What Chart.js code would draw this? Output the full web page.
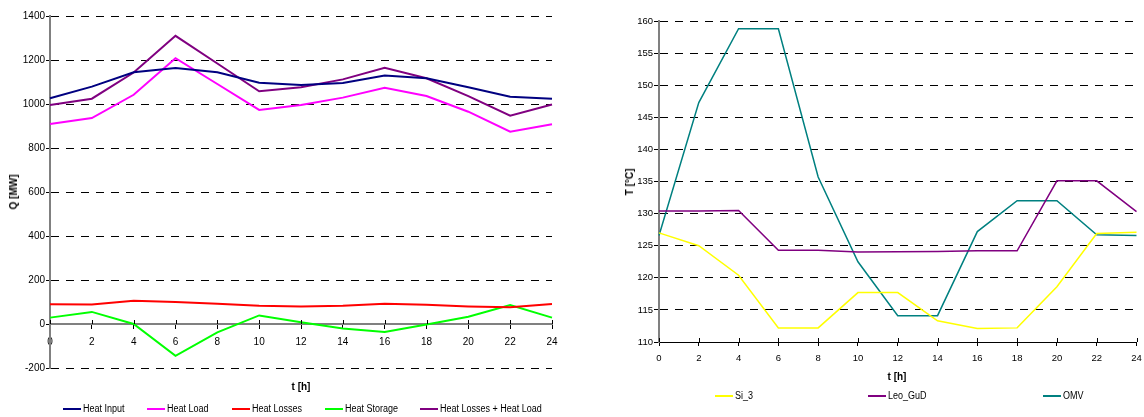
<!DOCTYPE html>
<html>
<head>
<meta charset="utf-8">
<script src="https://cdn.jsdelivr.net/npm/chart.js@4/dist/chart.umd.min.js"></script>
<style>
  html, body { margin: 0; padding: 0; background: #fff; }
  body { width: 1144px; height: 417px; position: relative; overflow: hidden; font-family: "Liberation Sans", Arial, sans-serif; color: #000; }
  canvas { position: absolute; top: 0; }
  .t { position: absolute; white-space: nowrap; font-size: 10px; line-height: 12px; }
  .b { font-weight: bold; }
  .leg { position: absolute; height: 12px; white-space: nowrap; }
  .leg .ln { position: absolute; left: 0; top: 5px; width: 18px; height: 2px; }
  .leg .tx { position: absolute; left: 20px; top: 0; font-size: 10px; line-height: 12px; transform: scaleX(0.9); transform-origin: left center; }
</style>
</head>
<body>
<canvas id="c1" width="580" height="417" style="left:0px"></canvas>
<canvas id="c2" width="564" height="417" style="left:580px"></canvas>
<div id="overlay"></div>
<script>
// ---------- data ----------
const hours = [0, 2, 4, 6, 8, 10, 12, 14, 16, 18, 20, 22, 24];

const heatInput      = [1026, 1079, 1144, 1164, 1144, 1097, 1086, 1095, 1129, 1117, 1076, 1033, 1024];
const heatLoad       = [909, 936, 1042, 1208, 1091, 973, 995, 1029, 1074, 1036, 965, 874, 908];
const heatLosses     = [90, 89, 106, 100, 92, 83, 80, 83, 92, 87, 80, 76, 91];
const heatStorage    = [29, 55, 0, -145, -38, 39, 8, -20, -36, -2, 33, 86, 29];
const lossesPlusLoad = [995, 1024, 1143, 1310, 1184, 1058, 1076, 1112, 1165, 1117, 1036, 947, 998];

const si3    = [127.0, 125.0, 120.4, 112.2, 112.2, 117.7, 117.7, 113.3, 112.1, 112.2, 118.6, 126.9, 127.1];
const leoGuD = [130.4, 130.4, 130.5, 124.3, 124.3, 124.0, 124.05, 124.1, 124.2, 124.2, 135.1, 135.1, 130.3];
const omv    = [126.6, 147.3, 158.8, 158.8, 135.7, 122.5, 114.1, 114.1, 127.2, 132.0, 132.0, 126.7, 126.6];

const leftYTicks  = [-200, 0, 200, 400, 600, 800, 1000, 1200, 1400];
const rightYTicks = [110, 115, 120, 125, 130, 135, 140, 145, 150, 155, 160];

const leftNames  = ['Heat Input', 'Heat Load', 'Heat Losses', 'Heat Storage', 'Heat Losses + Heat Load'];
const leftColors = ['#000080', '#FF00FF', '#FF0000', '#00FF00', '#800080'];
const leftSeries = [heatInput, heatLoad, heatLosses, heatStorage, lossesPlusLoad];

const rightNames  = ['Si_3', 'Leo_GuD', 'OMV'];
const rightColors = ['#FFFF00', '#800080', '#008080'];
const rightSeries = [si3, leoGuD, omv];

// ---------- helpers ----------
const FONT = '"Liberation Sans", Arial, sans-serif';

const crossTicks = {
  id: 'crossTicks',
  afterDraw(chart, args, opts) {
    const xs = chart.scales.x, ys = chart.scales.y;
    const y0 = opts.atZero ? ys.getPixelForValue(0) : chart.chartArea.bottom;
    const ctx = chart.ctx;
    ctx.save();
    ctx.strokeStyle = '#000';
    ctx.lineWidth = 1;
    ctx.beginPath();
    for (let i = 0; i < xs.ticks.length; i++) {
      const x = Math.round(xs.getPixelForTick(i)) + 0.5;
      ctx.moveTo(x, y0 - 4);
      ctx.lineTo(x, y0);
    }
    ctx.stroke();
    ctx.restore();
  }
};

function makeDatasets(names, colors, series, width) {
  return names.map((n, i) => ({
    label: n,
    data: series[i],
    borderColor: colors[i],
    backgroundColor: colors[i],
    borderWidth: width,
    pointRadius: 0,
    pointHoverRadius: 0,
    tension: 0,
    fill: false
  }));
}

// ---------- left chart ----------
new Chart(document.getElementById('c1'), {
  type: 'line',
  data: { labels: hours.map(String), datasets: makeDatasets(leftNames, leftColors, leftSeries, 2) },
  plugins: [crossTicks],
  options: {
    responsive: false,
    animation: false,
    devicePixelRatio: 1,
    layout: { padding: { left: 0, top: 16, right: 28, bottom: 49 } },
    plugins: { legend: { display: false }, tooltip: { enabled: false }, crossTicks: { atZero: true } },
    scales: {
      x: {
        type: 'category',
        position: { y: 0 },
        offset: false,
        grid: { display: true, drawOnChartArea: false, drawTicks: true, tickLength: 4, tickColor: '#000', tickWidth: 1, tickBorderDash: [] },
        border: { display: true, color: '#808080', width: 2 },
        ticks: { color: '#000', font: { family: FONT, size: 10 }, padding: 8, maxRotation: 0, autoSkip: false }
      },
      y: {
        min: -200, max: 1400,
        afterBuildTicks: s => { s.ticks = leftYTicks.map(v => ({ value: v })); },
        afterFit: s => { s.width = 50; },
        grid: { color: '#000', lineWidth: 1, tickLength: 4, tickColor: '#000', tickWidth: 1, tickBorderDash: [] },
        border: { display: true, color: '#808080', width: 2, dash: [8, 7] },
        ticks: { color: '#000', font: { family: FONT, size: 10 }, padding: 1, callback: v => String(v) }
      }
    }
  }
});

// ---------- right chart ----------
new Chart(document.getElementById('c2'), {
  type: 'line',
  data: { labels: hours.map(String), datasets: makeDatasets(rightNames, rightColors, rightSeries, 1.5) },
  plugins: [crossTicks],
  options: {
    responsive: false,
    animation: false,
    devicePixelRatio: 1,
    layout: { padding: { left: 0, top: 21, right: 7.5, bottom: 45 } },
    plugins: { legend: { display: false }, tooltip: { enabled: false }, crossTicks: { atZero: false } },
    scales: {
      x: {
        type: 'category',
        offset: false,
        afterFit: s => { s.height = 30; s.paddingLeft = 0; s.paddingRight = 0; },
        grid: { display: true, drawOnChartArea: false, drawTicks: true, tickLength: 4, tickColor: '#000', tickWidth: 1, tickBorderDash: [] },
        border: { display: true, color: '#000', width: 1 },
        ticks: { color: '#000', font: { family: FONT, size: 9.5 }, padding: 7, maxRotation: 0, autoSkip: false }
      },
      y: {
        min: 110, max: 160,
        afterBuildTicks: s => { s.ticks = rightYTicks.map(v => ({ value: v })); },
        afterFit: s => { s.width = 79; },
        grid: { color: '#000', lineWidth: 1, tickLength: 5, tickColor: '#000', tickWidth: 1, tickBorderDash: [] },
        border: { display: true, color: '#808080', width: 2, dash: [8, 7] },
        ticks: { color: '#000', font: { family: FONT, size: 9.5 }, padding: 1, callback: v => String(v) }
      }
    }
  }
});

// ---------- titles & legends (HTML text) ----------
const ov = document.getElementById('overlay');
function addText(txt, cx, cy, bold, rot) {
  const d = document.createElement('div');
  d.className = 't' + (bold ? ' b' : '');
  d.textContent = txt;
  d.style.left = cx + 'px';
  d.style.top = cy + 'px';
  d.style.transform = 'translate(-50%,-50%)' + (rot ? ' rotate(-90deg)' : '');
  ov.appendChild(d);
}
addText('Q [MW]', 14, 192, true, true);
addText('T [°C]', 630, 182, true, true);
addText('t [h]', 301, 387, true, false);
addText('t [h]', 897, 377, true, false);

function addLegend(names, colors, xs, cy, lw) {
  names.forEach((n, i) => {
    const d = document.createElement('div');
    d.className = 'leg';
    d.style.left = xs[i] + 'px';
    d.style.top = (cy - 6) + 'px';
    const l = document.createElement('div');
    l.className = 'ln';
    l.style.background = colors[i];
    l.style.height = lw + 'px';
    const t = document.createElement('div');
    t.className = 'tx';
    t.textContent = n;
    d.appendChild(l); d.appendChild(t);
    ov.appendChild(d);
  });
}
addLegend(leftNames, leftColors, [63, 147, 232, 325, 420], 409, 2);
addLegend(rightNames, rightColors, [715, 868, 1043], 396, 2);
</script>
</body>
</html>
